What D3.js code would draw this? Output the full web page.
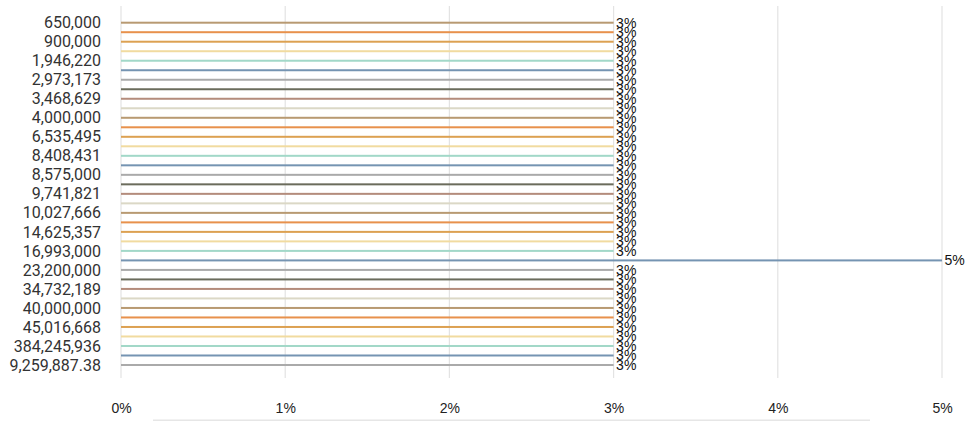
<!DOCTYPE html>
<html>
<head>
<meta charset="utf-8">
<script src="https://cdn.jsdelivr.net/npm/d3@7"></script>
<style>
  body { margin: 0; background: #fff; }
  svg { display: block; }
</style>
</head>
<body>
<div id="chart"></div>
<script>
// Categories (every other one is labelled on the axis)
const categories = [
    "650,000", "750,000", "900,000", "1,000,000", "1,946,220", "2,500,000",
    "2,973,173", "3,000,000", "3,468,629", "3,500,000", "4,000,000", "5,000,000",
    "6,535,495", "7,000,000", "8,408,431", "8,500,000", "8,575,000", "9,000,000",
    "9,741,821", "10,000,000", "10,027,666", "12,000,000", "14,625,357", "15,000,000",
    "16,993,000", "20,000,000", "23,200,000", "30,000,000", "34,732,189", "35,000,000",
    "40,000,000", "42,000,000", "45,016,668", "50,000,000", "384,245,936", "1,700,000.5",
    "9,259,887.38"
];

// Share of records per category (%)
const shares = [
    3, 3, 3, 3, 3, 3, 3, 3, 3, 3, 3, 3, 3, 3, 3, 3, 3, 3, 3, 3, 3, 3, 3, 3, 3,
    5,
    3, 3, 3, 3, 3, 3, 3, 3, 3, 3, 3
];

const xTicks = [0, 1, 2, 3, 4, 5];

const palette = ["#b89a72", "#e8914c", "#dca152", "#f1dba0", "#a2d8c8",
                 "#7594b2", "#aaaaaa", "#6b6c5c", "#b48c7c", "#dbd8c6"];

const data = categories.map((c, i) => ({ cat: c, value: shares[i] }));

const width = 967, height = 421;
const margin = { top: 6, right: 25, bottom: 43, left: 121 };

const svg = d3.select("#chart")
    .append("svg")
    .attr("width", width)
    .attr("height", height);

// Scales
const x = d3.scaleLinear().domain([0, 5]).range([margin.left, width - margin.right]);
const y = d3.scalePoint().domain(categories).range([22.7, 365]);
const color = d3.scaleOrdinal().domain(categories).range(palette);

// Gridlines
svg.append("g")
    .selectAll("line")
    .data(xTicks)
    .join("line")
    .attr("x1", d => x(d))
    .attr("x2", d => x(d))
    .attr("y1", margin.top)
    .attr("y2", height - margin.bottom)
    .attr("stroke", "#e3e3e3")
    .attr("stroke-width", 1.2);

// Bars (thin)
svg.append("g")
    .selectAll("rect")
    .data(data)
    .join("rect")
    .attr("x", x(0))
    .attr("y", d => y(d.cat) - 1)
    .attr("width", d => x(d.value) - x(0))
    .attr("height", 2)
    .attr("fill", d => color(d.cat));

// Value labels
svg.append("g")
    .selectAll("text")
    .data(data)
    .join("text")
    .attr("x", d => x(d.value) + 2.5)
    .attr("y", d => y(d.cat))
    .attr("dy", "0.35em")
    .style("font-family", "'Liberation Sans', Arial, sans-serif")
    .style("font-size", "14px")
    .attr("fill", "#111")
    .text(d => d.value + "%");

// Y axis labels (every other category)
const yAxis = d3.axisLeft(y)
    .tickValues(categories.filter((d, i) => i % 2 === 0))
    .tickSize(0)
    .tickPadding(0);

svg.append("g")
    .attr("transform", `translate(101,0)`)
    .call(yAxis)
    .call(g => g.select(".domain").remove())
    .selectAll("text")
    .style("font-family", "Roboto, sans-serif")
    .style("font-size", "16px")
    .attr("fill", "#333");

// X axis labels
const xAxis = d3.axisBottom(x)
    .tickValues(xTicks)
    .tickFormat(d => d + "%")
    .tickSize(0)
    .tickPadding(0);

svg.append("g")
    .attr("transform", `translate(0,403)`)
    .call(xAxis)
    .call(g => g.select(".domain").remove())
    .selectAll("text")
    .style("font-family", "'Liberation Sans', Arial, sans-serif")
    .style("font-size", "14px")
    .attr("fill", "#222");

// Scroll bar strip at the bottom
svg.append("rect")
    .attr("x", 153)
    .attr("y", 419.5)
    .attr("width", 717)
    .attr("height", 2)
    .attr("fill", "#e6e6e6");
</script>
</body>
</html>
